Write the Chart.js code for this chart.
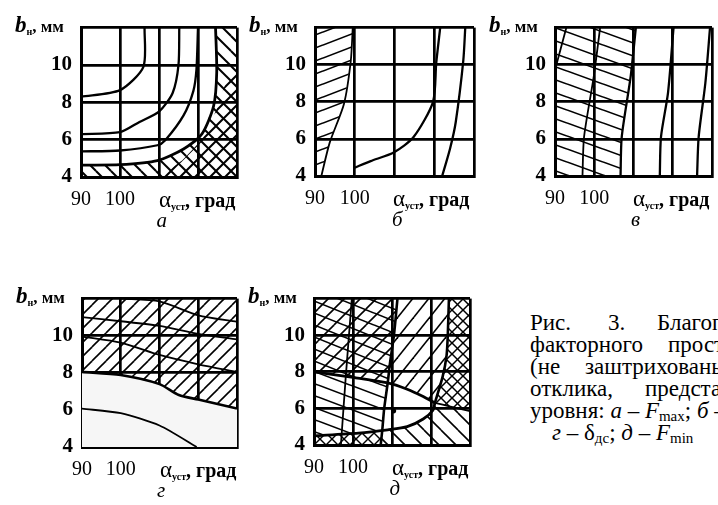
<!DOCTYPE html>
<html lang="ru">
<head>
<meta charset="UTF-8">
<title>Рис. 3</title>
<script src="https://cdn.jsdelivr.net/npm/chart.js@4"></script>
<style>
  html, body { margin: 0; padding: 0; background: #fff; }
  body { width: 718px; height: 505px; position: relative; overflow: hidden;
         font-family: "Liberation Serif", "DejaVu Serif", serif; color: #000; }
  canvas { position: absolute; }
  .t { position: absolute; white-space: pre; line-height: 1; }
  .yl { font-size: 17px; font-weight: bold; }
  .yl i { font-size: 23px; }
  .yl sub, .xl sub { font-size: 10px; vertical-align: -3px; font-weight: bold; }
  .xl { font-size: 20px; font-weight: bold; }
  .xl .al { font-weight: normal; font-size: 23px; }
  .cap { font-style: italic; font-size: 21px; }
  .txt { font-size: 23px; }
  .txt sub { font-size: 15px; vertical-align: -3px; }
</style>
</head>
<body>

<canvas id="pa"></canvas>
<canvas id="pb"></canvas>
<canvas id="pv"></canvas>
<canvas id="pg"></canvas>
<canvas id="pd"></canvas>

<div id="labels"></div>

<!-- подпись к рисунку (обрезана правым краем) -->
<div class="t txt" style="left:530px; top:311px">Рис.</div>
<div class="t txt" style="left:608px; top:311px">3.</div>
<div class="t txt" style="left:657px; top:311px">Благоприятные</div>
<div class="t txt" style="left:530px; top:333px">факторного</div>
<div class="t txt" style="left:668px; top:333px">пространства</div>
<div class="t txt" style="left:530px; top:355px">(не</div>
<div class="t txt" style="left:585px; top:355px">заштрихованы)</div>
<div class="t txt" style="left:530px; top:377px">отклика,</div>
<div class="t txt" style="left:645px; top:377px">представленные</div>
<div class="t txt" style="left:530px; top:399px">уровня: <i>а</i> – <i>F</i><sub>max</sub>; <i>б</i> – <i>F</i><sub>min</sub>;</div>
<div class="t txt" style="left:552px; top:421px"><i>г</i> – δ<sub>дс</sub>; <i>д</i> – <i>F</i><sub>min</sub></div>

<script>
// оси: α_уст, град (x) и b_н, мм (y)
const alphaTicks = [90, 100, 110, 120, 130];
const alphaShown = [90, 100];
const bTicks = [4, 6, 8, 10, 12];
const bShown = [4, 6, 8, 10];

// --- а: F_max ---
const a1 = [[90, 8.3], [100, 8.65], [106, 9.9], [106.3, 12]];
const a2 = [[90, 6.3], [100, 6.4], [105, 6.95], [110, 7.5], [113.5, 8.5], [115, 10], [115.2, 12]];
const a3 = [[90, 5.37], [100, 5.42], [109.6, 5.7], [111.6, 5.97], [116.3, 7.3], [118.8, 8.6], [119.6, 9.75], [120, 12]];
const a4 = [[90, 4.64], [100, 4.66], [109.6, 4.88], [116.3, 5.5], [121, 6.3], [124, 7.8], [124.8, 9.6], [124.5, 12]];
const aB = [[110, 4], [116, 4.9], [121, 6], [124.5, 7.5], [127, 9], [130, 10]];

// --- б ---
const b1 = [[91.6, 4], [93.7, 5.8], [97.3, 7.9], [99, 10.2], [99.5, 12]];
const b2 = [[100, 4.45], [104, 4.8], [109.9, 5.28], [114.8, 6.1], [119.7, 8], [120.5, 10.1], [121.5, 12]];
const b3 = [[122, 4], [124, 5.5], [125.4, 6.9], [127.3, 10.2], [127.8, 12]];

// --- в ---
const v1 = [[90, 9.72], [92.9, 12]];
const v2 = [[97, 4], [97.4, 6.1], [99.9, 9.4], [101.5, 12]];
const v3 = [[106.7, 4], [107, 6.1], [109.3, 9.4], [110.6, 12]];
const v4 = [[116.7, 4], [117, 6.1], [118.8, 8.5], [120.2, 12]];
const v5 = [[126.2, 4], [126.6, 6.1], [128.3, 9], [129.5, 12]];

// --- г: δ_дс ---
const g1 = [[90, 6.07], [100, 5.82], [110, 5.16], [119.6, 4]];
const g2 = [[90, 8.05], [100, 7.88], [110, 7.39], [115, 6.8], [120, 6.56], [130, 6.07]];
const g3 = [[90, 9.95], [100, 9.62], [110, 8.96], [120, 8.46], [130, 8.05]];
const g4 = [[90, 11.0], [100, 10.78], [110, 10.53], [120, 10.1], [130, 9.8]];
const g5 = [[100, 12], [110, 11.85], [120, 11.1], [130, 10.75]];

// --- д: F_min ---
const dVert = [[111.4, 12], [110.5, 10], [109.5, 8.5], [108.9, 7.4], [108, 6], [107.5, 4.8], [107.1, 4]];
const dUpper = [[90, 8.0], [100, 7.7], [108.9, 7.4], [113.9, 7.05], [118, 6.65], [121, 6.3]];
const dLower = [[121, 6.3], [120.5, 5.9], [118, 5.42], [113.9, 5.0], [108.9, 4.83], [101.4, 4.65], [90, 4.5]];
const dRight = [[124.6, 12], [124.3, 10], [124, 8.9], [123, 7.75], [121, 6.3]];
const dTail = [[121, 6.3], [125, 6.1], [130, 5.85]];
const dThin = [[99.7, 12], [98.1, 7.6], [96.9, 4]];
const dOptimum = [[110.4, 5.87]];

// положение областей построения (px)
const boxes = {
  pa: { L: 81, T: 14, W: 161, H: 163, cap: 'а' },
  pb: { L: 315, T: 14, W: 164, H: 162, cap: 'б' },
  pv: { L: 555, T: 14, W: 162, H: 162, cap: 'в' },
  pg: { L: 82, T: 285, W: 160, H: 162, cap: 'г' },
  pd: { L: 314, T: 285, W: 161, H: 160, cap: 'д' }
};

// штриховка
function hatch(w, h, kind, lw) {
  const c = document.createElement('canvas');
  c.width = w; c.height = h;
  const x = c.getContext('2d');
  x.strokeStyle = '#000';
  x.lineWidth = lw || 1.6;
  const seg = (x0, y0, x1, y1) => {
    for (const dx of [-w, 0, w]) for (const dy of [-h, 0, h]) {
      x.beginPath(); x.moveTo(x0 + dx, y0 + dy); x.lineTo(x1 + dx, y1 + dy); x.stroke();
    }
  };
  if (kind === '\\' || kind === 'x') seg(0, 0, w, h);
  if (kind === '/' || kind === 'x') seg(0, h, w, 0);
  return x.createPattern(c, 'repeat');
}

const pts = arr => arr.map(p => ({ x: p[0], y: p[1] }));

function line(arr, w) {
  return { data: pts(arr), borderColor: '#000', borderWidth: w || 2.3, pointRadius: 0, tension: 0.25, fill: false };
}
function area(arr, pattern) {
  return { data: pts(arr), borderWidth: 0, borderColor: 'rgba(0,0,0,0)', backgroundColor: pattern,
           pointRadius: 0, tension: 0, fill: 'shape' };
}

function makePanel(id, datasets) {
  const b = boxes[id];
  const cv = document.getElementById(id);
  cv.width = b.W + 66; cv.height = b.H + 48;
  cv.style.left = (b.L - 60) + 'px';
  cv.style.top = (b.T - 8) + 'px';

  new Chart(cv, {
    type: 'line',
    data: { datasets: datasets },
    options: {
      responsive: false,
      animation: false,
      events: [],
      layout: { padding: { top: 8, right: 6, left: 0, bottom: 0 } },
      plugins: { legend: { display: false }, tooltip: { enabled: false } },
      scales: {
        x: {
          type: 'linear', min: alphaTicks[0], max: alphaTicks[alphaTicks.length - 1],
          afterFit: s => { s.height = 40; },
          afterBuildTicks: s => { s.ticks = alphaTicks.map(v => ({ value: v })); },
          ticks: {
            autoSkip: false, maxRotation: 0, padding: 11, color: '#000',
            font: { family: 'Liberation Serif', size: 20 },
            callback: v => alphaShown.includes(v) ? String(v) : ''
          },
          grid: { color: '#000', lineWidth: 2.7, drawTicks: false },
          border: { color: '#000', width: 3 }
        },
        y: {
          min: bTicks[0], max: bTicks[bTicks.length - 1],
          afterFit: s => { s.width = 60; },
          afterBuildTicks: s => { s.ticks = bTicks.map(v => ({ value: v })); },
          ticks: {
            padding: 9, color: '#000',
            font: { family: 'Liberation Serif', size: 21, weight: 'bold' },
            callback: v => bShown.includes(v) ? String(v) : ''
          },
          grid: { color: '#000', lineWidth: 2.7, drawTicks: false },
          border: { color: '#000', width: 3 }
        }
      }
    }
  });

  // подписи осей и буква панели
  const lab = document.getElementById('labels');
  lab.insertAdjacentHTML('beforeend',
    `<div class="t yl" style="left:${b.L - 66}px; top:${b.T - 1}px"><i>b</i><sub>н</sub>, мм</div>` +
    `<div class="t xl" style="left:${b.L + 78}px; top:${b.T + b.H + 11}px"><span class="al">α</span><sub>уст</sub>, град</div>` +
    `<div class="t cap" style="left:${b.L + b.W / 2 - 5}px; top:${b.T + b.H + 33}px">${b.cap}</div>`);
}

const corner = (x, y) => [x, y];

// а
makePanel('pa', [
  line(a1), line(a2), line(a3), line(a4, 2.8),
  area([...a4, corner(130, 12), corner(130, 4), corner(90, 4)], hatch(15, 15, '\\', 2)),
  area([...aB, corner(130, 4)], hatch(15, 15, '/', 2))
]);

// б
makePanel('pb', [
  line(b1, 1.8), line(b2), line(b3),
  area([corner(90, 4), ...b1, corner(90, 12)], hatch(34, 13, '/', 1.6))
]);

// в
makePanel('pv', [
  line(v1, 1.8), line(v2, 1.8), line(v3), line(v4), line(v5),
  area([corner(90, 4), ...v3, corner(90, 12)], hatch(36, 13, '\\', 1.6))
]);

// г
makePanel('pg', [
  line(g1, 1.8), line(g2, 2.6), line(g3, 1.8), line(g4, 1.8), line(g5, 1.8),
  area([...g2, corner(130, 12), corner(90, 12)], hatch(14, 14, '/', 1.6)),
  area([corner(90, 4), ...g2, corner(130, 4)], '#f6f6f6')
]);

// д
const R1 = [corner(90, 12), ...dVert.slice(0, 4), dUpper[1], dUpper[0]];
const R2 = [dVert[0], ...dRight, dUpper[4], dUpper[3], dUpper[2], dVert[2], dVert[1]];
const R3 = [dRight[0], corner(130, 12), ...dTail.slice().reverse(), dRight[3], dRight[2], dRight[1]];
const R4 = [dVert[5], dVert[6], corner(130, 4), ...dTail.slice().reverse(), ...dLower.slice(1, 5)];
const R5 = [...dUpper.slice(0, 3), dVert[4], dVert[5], dLower[5], dLower[6]];
const R6 = [dLower[6], dLower[5], dVert[5], dVert[6], corner(90, 4)];

makePanel('pd', [
  { data: pts(dOptimum), showLine: false, pointRadius: 2.6, pointBackgroundColor: '#000', pointBorderWidth: 0 },
  line(dVert, 2.6), line(dUpper, 2.8), line(dLower, 2.8), line(dRight, 2.6), line(dTail, 1.8), line(dThin, 1.8),
  area(R1, hatch(30, 12, '\\', 1.6)),
  area(R1, hatch(16, 16, '/', 1.6)),
  area(R2, hatch(16, 20, '/', 1.6)),
  area(R3, hatch(11, 11, 'x', 1.5)),
  area(R4, hatch(17, 17, '\\', 1.6)),
  area(R5, hatch(32, 12, '\\', 1.6)),
  area(R6, hatch(12, 12, 'x', 1.4))
]);
</script>
</body>
</html>
